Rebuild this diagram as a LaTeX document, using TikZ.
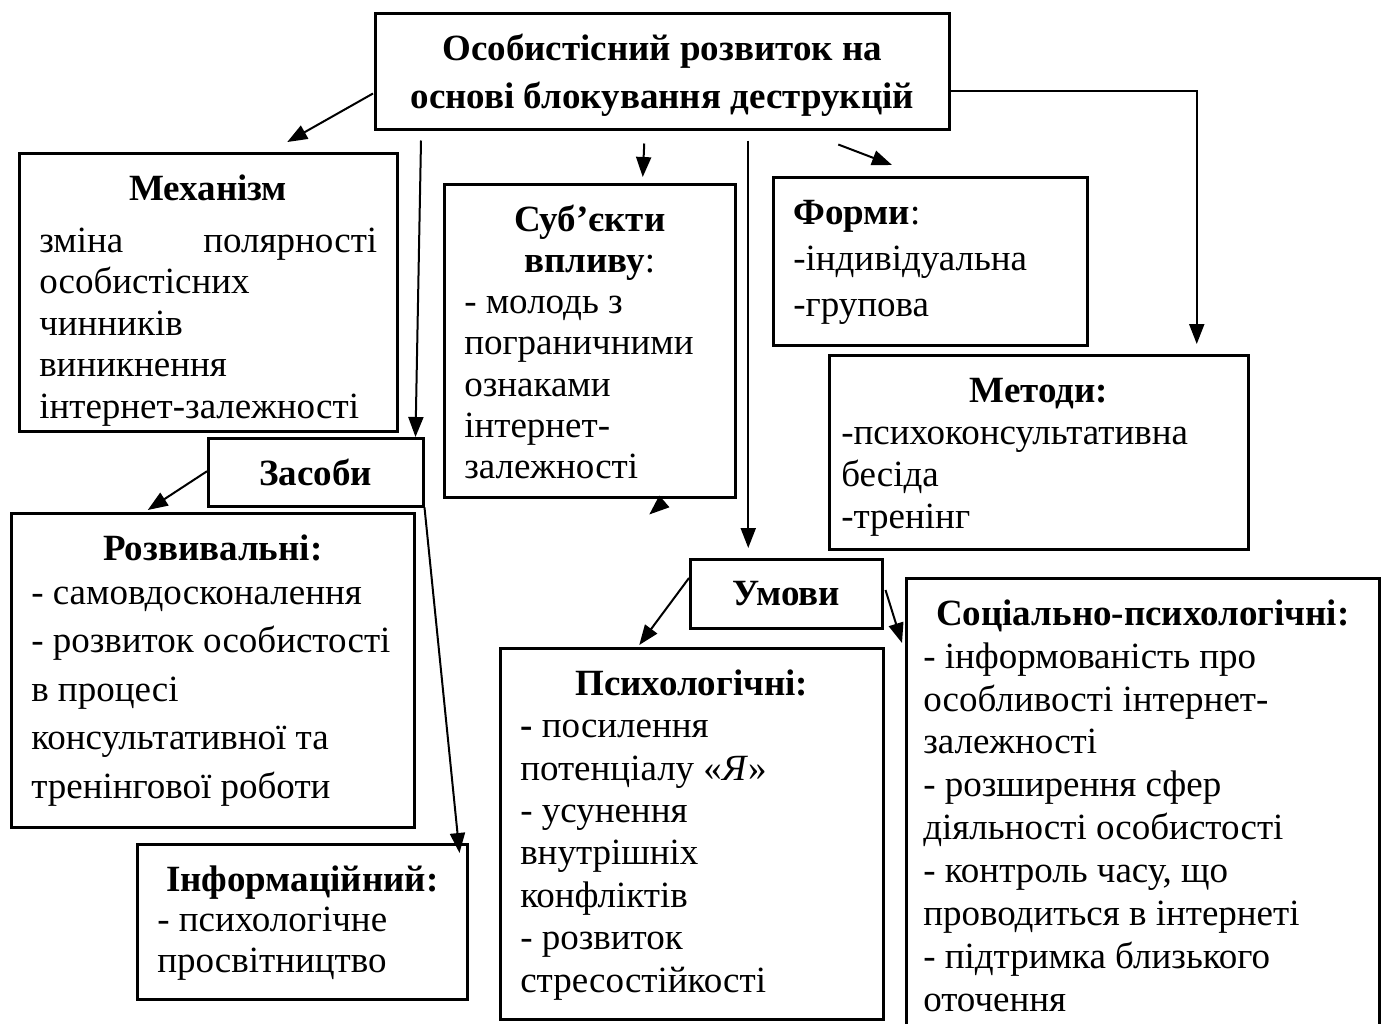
\documentclass[tikz,border=0pt]{standalone}
\usepackage{fontspec}
\setmainfont{Liberation Serif}
\usetikzlibrary{arrows.meta,calc}

% text block of a frame: width, height, line distance, content
\newcommand{\boxbody}[4]{%
  \parbox[t][#2][t]{#1}{\fontsize{37}{#3}\selectfont\raggedright\rule{0pt}{30pt}#4}}

\begin{document}
\begin{tikzpicture}[x=1pt,y=-1pt,
    frame/.style={draw,line width=2.5pt,inner xsep=20pt,inner ysep=17pt,anchor=north west},
    tag/.style={draw,line width=2.5pt,inner sep=0pt,anchor=north west,font=\fontsize{37}{42}\selectfont\bfseries},
    arr/.style={-{Triangle[length=20pt,width=15pt]},line width=2pt}]

  \useasboundingbox (0,0) rectangle (1383,1023);

  % main block
  \node[frame] (top) at (374,12) {\boxbody{534pt}{82pt}{48pt}{{\centering\bfseries Особистісний розвиток на\\основі блокування деструкцій\par}}};

  % upper row
  \node[frame] (mech) at (18,152) {\boxbody{338pt}{244pt}{41.5pt}{{\centering\textbf{Механізм}\par}\vspace{10.5pt}зміна\hfill полярності\\особистісних\\чинників\\виникнення\\інтернет-залежності}};
  \node[frame] (subj) at (443,183) {\boxbody{251pt}{279pt}{41.2pt}{{\centering\textbf{Суб’єкти}\\\textbf{впливу}:\par}- молодь з\\пограничними\\ознаками\\інтернет-\\залежності}};
  \node[frame] (form) at (772,176) {\boxbody{274pt}{134pt}{46pt}{\textbf{Форми}:\\-індивідуальна\\-групова}};
  \node[frame,inner xsep=12pt] (meth) at (828,354) {\boxbody{395pt}{160pt}{42pt}{{\centering\textbf{Методи:}\par}-психоконсультативна\\бесіда\\-тренінг}};

  % means
  \node[tag,minimum width=215pt,minimum height=68pt] (zas) at (207,437) {Засоби};
  \node[frame] (rozv) at (10,512) {\boxbody{363pt}{280pt}{48.5pt}{{\centering\textbf{Розвивальні:}\par}\vspace{-4.5pt}- самовдосконалення\\- розвиток особистості\\в процесі\\консультативної та\\тренінгової роботи}};
  \node[frame] (info) at (136,843) {\boxbody{290pt}{121pt}{40.5pt}{{\centering\textbf{Інформаційний:}\par}- психологічне\\просвітництво}};

  % conditions
  \node[tag,minimum width=192pt,minimum height=69pt] (umovy) at (689,558) {Умови};
  \node[frame] (psych) at (499,647) {\boxbody{343pt}{337pt}{42.4pt}{{\centering\textbf{Психологічні:}\par}\textbf{-} посилення\\потенціалу «\textit{Я}»\\- усунення\\внутрішніх\\конфліктів\\- розвиток\\стресостійкості}};
  \node[frame,inner xsep=17pt] (soc) at (905,577) {\boxbody{439pt}{436pt}{42.9pt}{{\centering\textbf{Соціально-психологічні:}\par}- інформованість про\\особливості інтернет-\\залежності\\- розширення сфер\\діяльності особистості\\- контроль часу, що\\проводиться в інтернеті\\- підтримка близького\\оточення}};

  % arrows from the main block
  \draw[arr] ($(top.south west)+(-1,-37)$) -- ($(mech.north)+(79,-10)$);
  \draw[arr] ($(top.south west)+(47,10)$) -- ($(zas.north east)+(-9,0)$);
  \draw[arr] ($(top.south)+(-18,13)$) -- ($(subj.north)+(53,-6)$);
  \draw[arr] ($(top.south)+(86,10)$) -- ($(umovy.north)+(-38,-10)$);
  \draw[arr] ($(top.south)+(176,14)$) -- ($(form.north west)+(120,-11)$);
  \draw[arr] ($(top.east)+(0,20)$) -| ($(meth.north)+(158,-10)$);
  \draw[arr] ($(subj.south)+(74.5,3)$) -- ($(subj.south)+(59.5,16)$);

  % arrows from means and conditions
  \draw[arr] ($(zas.west)+(0,-1)$) -- ($(rozv.north)+(-65,-2)$);
  \draw[arr] (zas.south east) -- ($(info.north east)+(-9,10)$);
  \draw[arr] ($(umovy.north west)+(0,20)$) -- ($(psych.north)+(-52.5,-2)$);
  \draw[arr] ($(umovy.north east)+(2,32)$) -- ($(soc.north west)+(-3,66)$);

\end{tikzpicture}
\end{document}
